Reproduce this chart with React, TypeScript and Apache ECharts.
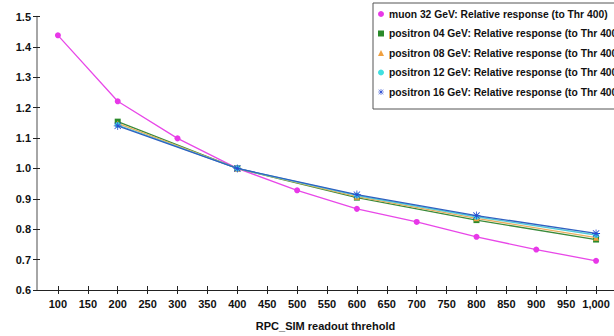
import React, { useEffect, useRef } from "react";
import * as echarts from "echarts";

const xTicks = [100, 150, 200, 250, 300, 350, 400, 450, 500, 550, 600, 650, 700, 750, 800, 850, 900, 950, 1000];
const muonX = [100, 200, 300, 400, 500, 600, 700, 800, 900, 1000];
const muonY = [1.438, 1.221, 1.099, 1.0, 0.928, 0.867, 0.824, 0.775, 0.733, 0.696];
const posX = [200, 400, 600, 800, 1000];
const pos04 = [1.154, 1.0, 0.904, 0.83, 0.766];
const pos08 = [1.148, 1.0, 0.907, 0.836, 0.772];
const pos12 = [1.143, 1.0, 0.911, 0.841, 0.781];
const pos16 = [1.14, 1.0, 0.914, 0.845, 0.786];
const seriesNames = [
  "muon 32 GeV: Relative response (to Thr 400)",
  "positron 04 GeV: Relative response (to Thr 400)",
  "positron 08 GeV: Relative response (to Thr 400)",
  "positron 12 GeV: Relative response (to Thr 400)",
  "positron 16 GeV: Relative response (to Thr 400)",
];
const xName = "RPC_SIM readout threhold";

const STAR =
  "path://M4.5 0 L5.5 0 L5.5 10 L4.5 10 Z M0 4.5 L10 4.5 L10 5.5 L0 5.5 Z M0.7 1.4 L1.4 0.7 L9.3 8.6 L8.6 9.3 Z M8.6 0.7 L9.3 1.4 L1.4 9.3 L0.7 8.6 Z";

const FONT = "'Liberation Sans', Arial, sans-serif";

export default function App() {
  const ref = useRef<HTMLDivElement>(null);
  useEffect(() => {
    if (!ref.current) return;
    const chart = echarts.init(ref.current, undefined, { renderer: "svg" });
    const zip = (xs: number[], ys: number[]) => xs.map((x, i) => [x, ys[i]]);
    const colors = ["#e838e8", "#2a8a2a", "#f0a040", "#40e0e0", "#2a4ad0"];
    const lineColors = ["#e848e8", "#3a8a3a", "#e8b060", "#50c8d8", "#3060c0"];
    const symbols = ["circle", "rect", "triangle", "circle", STAR];
    const sizes = [6, 6, 6, 6, 8];
    const datas = [zip(muonX, muonY), zip(posX, pos04), zip(posX, pos08), zip(posX, pos12), zip(posX, pos16)];
    const xMin = 65;
    const xMax = 1030;
    const pxPerUnit = (601 - 58) / 900;
    const baseX = {
      type: "value",
      min: xMin,
      max: xMax,
      splitLine: { show: false },
    };
    chart.setOption({
      animation: false,
      backgroundColor: "#ffffff",
      textStyle: { fontFamily: FONT },
      grid: {
        left: 37,
        top: 16.5,
        width: (xMax - xMin) * pxPerUnit,
        height: 280.5,
        containLabel: false,
      },
      legend: {
        orient: "vertical",
        left: 373,
        top: 3,
        padding: [4, 60, 10, 5],
        itemGap: 5.5,
        itemWidth: 6,
        itemHeight: 6,
        backgroundColor: "#ffffff",
        borderColor: "#555555",
        borderWidth: 1,
        borderRadius: 0,
        textStyle: { fontFamily: FONT, fontWeight: "bold", fontSize: 10.3, color: "#111111", lineHeight: 14 },
        data: seriesNames.map((n, i) => ({ name: n, icon: i === 4 ? STAR : symbols[i] })),
      },
      xAxis: [
        {
          ...baseX,
          name: xName,
          nameLocation: "middle",
          nameGap: 30,
          nameTextStyle: { fontFamily: FONT, fontWeight: "bold", fontSize: 11, color: "#111111" },
          axisLine: { show: true, lineStyle: { color: "#222222", width: 1 } },
          axisTick: { show: true, length: 4, customValues: xTicks, lineStyle: { color: "#222222" } },
          axisLabel: {
            show: true,
            customValues: xTicks,
            margin: 8,
            fontFamily: FONT,
            fontWeight: "bold",
            fontSize: 11,
            color: "#111111",
            formatter: (v: number) => (v >= 1000 ? v.toLocaleString("en-US") : String(v)),
          },
        },
        {
          ...baseX,
          position: "bottom",
          axisLine: { show: false },
          axisTick: { show: true, inside: true, length: 4, customValues: xTicks, lineStyle: { color: "#222222" } },
          axisLabel: { show: false },
        },
      ],
      yAxis: [
        {
          type: "value",
          min: 0.6,
          max: 1.5,
          interval: 0.1,
          splitLine: { show: false },
          axisLine: { show: true, lineStyle: { color: "#888888", width: 1.5 } },
          axisTick: { show: true, length: 4, lineStyle: { color: "#222222" } },
          axisLabel: {
            margin: 6,
            fontFamily: FONT,
            fontWeight: "bold",
            fontSize: 11,
            color: "#111111",
            formatter: (v: number) => v.toFixed(1),
          },
        },
        {
          type: "value",
          min: 0.6,
          max: 1.5,
          interval: 0.1,
          position: "left",
          splitLine: { show: false },
          axisLine: { show: false },
          axisTick: { show: true, inside: true, length: 3, lineStyle: { color: "#222222" } },
          axisLabel: { show: false },
        },
      ],
      series: seriesNames.map((n, i) => ({
        name: n,
        type: "line",
        data: datas[i],
        symbol: symbols[i],
        symbolSize: sizes[i],
        showAllSymbol: true,
        itemStyle: { color: colors[i] },
        lineStyle: { color: lineColors[i], width: 1.3 },
        z: 2 + i,
      })),
    });
    return () => chart.dispose();
  }, []);
  return (
    <div
      ref={ref}
      style={{ position: "fixed", left: 0, top: 0, width: 614, height: 336, background: "#fff" }}
    />
  );
}
